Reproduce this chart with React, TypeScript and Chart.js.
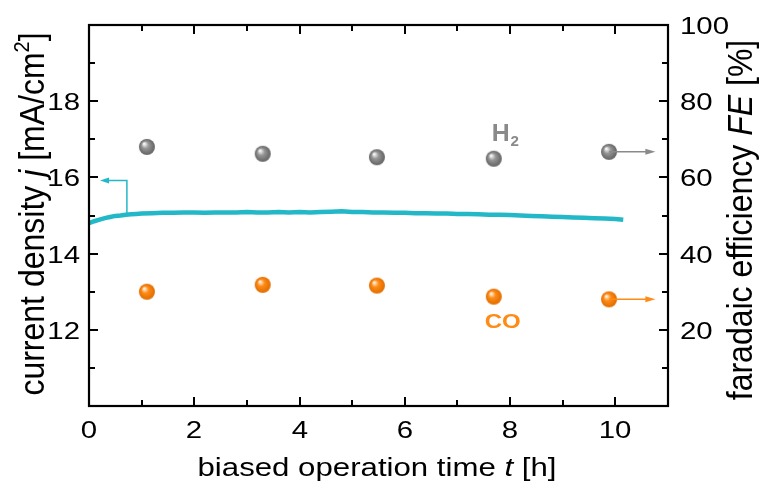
import React, { useEffect, useRef } from 'react';
import { Chart, registerables } from 'chart.js';

Chart.register(...registerables);

// ---- data ----
const timeH = [
  0, 0.1, 0.2, 0.3, 0.4, 0.5, 0.6, 0.7, 0.8, 0.9, 1.0,
  1.2, 1.4, 1.6, 1.8, 2.0, 2.2, 2.4, 2.6, 2.8, 3.0,
  3.2, 3.4, 3.6, 3.8, 4.0, 4.2, 4.4, 4.6, 4.8, 5.0,
  5.2, 5.4, 5.6, 5.8, 6.0, 6.2, 6.4, 6.6, 6.8, 7.0,
  7.2, 7.4, 7.6, 7.8, 8.0, 8.2, 8.4, 8.6, 8.8, 9.0,
  9.2, 9.4, 9.6, 9.8, 10.0, 10.15,
];
const currentDensity = [
  14.80, 14.85, 14.89, 14.93, 14.96, 14.99, 15.00, 15.02, 15.03, 15.04, 15.05,
  15.06, 15.07, 15.07, 15.08, 15.08, 15.07, 15.08, 15.08, 15.08, 15.09,
  15.08, 15.08, 15.09, 15.08, 15.09, 15.08, 15.09, 15.10, 15.11, 15.09,
  15.09, 15.08, 15.08, 15.07, 15.07, 15.06, 15.06, 15.05, 15.05, 15.04,
  15.04, 15.03, 15.02, 15.02, 15.01, 15.00, 14.99, 14.98, 14.97, 14.96,
  14.95, 14.94, 14.93, 14.92, 14.91, 14.89,
];
const sampleTimes = [1.1, 3.3, 5.47, 7.69, 9.88];
const feH2 = [68.0, 66.2, 65.3, 64.9, 66.7];
const feCO = [30.0, 31.8, 31.6, 28.7, 28.0];

const xLabeled = [0, 2, 4, 6, 8, 10];
const yLeftLabeled = [12, 14, 16, 18];
const yRightLabeled = [20, 40, 60, 80, 100];

// annotation anchors (data coordinates)
const jArrowX = [0.72, 0.21];
const jArrowY = [15.05, 15.92];
const feArrowX = [9.88, 10.76];
const h2Label = { x: 7.65, y: 69.6 };
const coLabel = { x: 7.86, y: 20.5 };

const LINE_COLOR = '#22b8c8';
const ORANGE = '#ff8a14';
const GRAY = '#8a8a8a';
const FONT = '"Liberation Sans", Arial, Helvetica, sans-serif';
const SX = 1.2; // horizontal glyph stretch of the original figure
const SV = 1.12; // perpendicular stretch for vertical titles

function makeBall(base: string, light: string, dark: string, r: number) {
  const c = document.createElement('canvas');
  const s = Math.ceil(r * 2 + 2);
  c.width = s;
  c.height = s;
  const g = c.getContext('2d')!;
  const cx = s / 2, cy = s / 2;
  const grad = g.createRadialGradient(cx - r * 0.35, cy - r * 0.4, r * 0.08, cx, cy, r);
  grad.addColorStop(0, light);
  grad.addColorStop(0.4, base);
  grad.addColorStop(1, dark);
  g.fillStyle = grad;
  g.beginPath();
  g.arc(cx, cy, r, 0, Math.PI * 2);
  g.fill();
  return c;
}

type Seg = { t: string; f: string; dy?: number };

function drawRich(ctx: CanvasRenderingContext2D, segs: Seg[], x: number, y: number, vertical: boolean) {
  ctx.save();
  ctx.translate(x, y);
  if (vertical) {
    ctx.rotate(-Math.PI / 2);
    ctx.scale(1, SV);
  } else {
    ctx.scale(SX, 1);
  }
  let total = 0;
  segs.forEach(s => { ctx.font = s.f; total += ctx.measureText(s.t).width; });
  let cx = -total / 2;
  ctx.textBaseline = 'alphabetic';
  ctx.textAlign = 'left';
  segs.forEach(s => {
    ctx.font = s.f;
    ctx.fillText(s.t, cx, s.dy || 0);
    cx += ctx.measureText(s.t).width;
  });
  ctx.restore();
}

function stretchedText(ctx: CanvasRenderingContext2D, text: string, x: number, y: number, align: CanvasTextAlign, sx: number) {
  ctx.save();
  ctx.translate(x, y);
  ctx.scale(sx, 1);
  ctx.textAlign = align;
  ctx.textBaseline = 'alphabetic';
  ctx.fillText(text, 0, 0);
  ctx.restore();
}

function arrowHead(ctx: CanvasRenderingContext2D, x: number, y: number, dir: number, len: number, w: number) {
  ctx.beginPath();
  ctx.moveTo(x, y);
  ctx.lineTo(x - dir * len, y - w / 2);
  ctx.lineTo(x - dir * len, y + w / 2);
  ctx.closePath();
  ctx.fill();
}

const decor = {
  id: 'decor',
  afterDraw(chart: any) {
    const { ctx, chartArea: a, scales } = chart;
    const x = scales.x, yL = scales.y, yR = scales.y2;
    ctx.save();
    // ticks (inward) and labels
    ctx.strokeStyle = '#000';
    ctx.fillStyle = '#000';
    ctx.lineWidth = 2;
    ctx.font = `24.5px ${FONT}`;
    x.ticks.forEach((t: any) => {
      const px = Math.round(x.getPixelForValue(t.value));
      const len = t.value % 2 === 0 ? 9 : 6;
      ctx.beginPath();
      ctx.moveTo(px, a.bottom); ctx.lineTo(px, a.bottom - len);
      ctx.moveTo(px, a.top); ctx.lineTo(px, a.top + len);
      ctx.stroke();
      if (xLabeled.includes(t.value)) stretchedText(ctx, String(t.value), px, a.bottom + 32, 'center', SX);
    });
    yL.ticks.forEach((t: any) => {
      const py = Math.round(yL.getPixelForValue(t.value));
      const len = t.value % 2 === 0 ? 9 : 6;
      ctx.beginPath();
      ctx.moveTo(a.left, py); ctx.lineTo(a.left + len, py);
      ctx.stroke();
      if (yLeftLabeled.includes(t.value)) stretchedText(ctx, String(t.value), a.left - 9, py + 8.5, 'right', SX);
    });
    yR.ticks.forEach((t: any) => {
      const py = Math.round(yR.getPixelForValue(t.value));
      const len = t.value % 20 === 0 ? 9 : 6;
      ctx.beginPath();
      ctx.moveTo(a.right, py); ctx.lineTo(a.right - len, py);
      ctx.stroke();
      if (yRightLabeled.includes(t.value)) stretchedText(ctx, String(t.value), a.right + 12, py + 8.5, 'left', SX);
    });
    // frame
    ctx.lineWidth = 2.2;
    ctx.strokeRect(a.left, a.top, a.right - a.left, a.bottom - a.top);

    // current-density arrow
    ctx.strokeStyle = LINE_COLOR;
    ctx.fillStyle = LINE_COLOR;
    ctx.lineWidth = 1.5;
    const ax0 = x.getPixelForValue(jArrowX[0]);
    const ax1 = x.getPixelForValue(jArrowX[1]);
    const ay0 = yL.getPixelForValue(jArrowY[0]);
    const ay1 = yL.getPixelForValue(jArrowY[1]);
    ctx.beginPath();
    ctx.moveTo(ax0, ay0); ctx.lineTo(ax0, ay1); ctx.lineTo(ax1 + 6, ay1);
    ctx.stroke();
    arrowHead(ctx, ax1, ay1, -1, 9, 6);

    // FE arrows
    const fx0 = x.getPixelForValue(feArrowX[0]);
    const fx1 = x.getPixelForValue(feArrowX[1]);
    const drawFe = (val: number, col: string) => {
      const py = yR.getPixelForValue(val);
      ctx.strokeStyle = col; ctx.fillStyle = col;
      ctx.beginPath(); ctx.moveTo(fx0, py); ctx.lineTo(fx1 - 6, py); ctx.stroke();
      arrowHead(ctx, fx1, py, 1, 10, 6);
    };
    drawFe(feH2[4], GRAY);
    drawFe(feCO[4], ORANGE);

    // series labels
    ctx.fillStyle = GRAY;
    ctx.font = `bold 23px ${FONT}`;
    const hx = x.getPixelForValue(h2Label.x), hy = yR.getPixelForValue(h2Label.y);
    stretchedText(ctx, 'H', hx, hy, 'left', 1.08);
    const hw = ctx.measureText('H').width * 1.08;
    ctx.font = `bold 14px ${FONT}`;
    stretchedText(ctx, '2', hx + hw + 1, hy + 5, 'left', 1.08);
    ctx.fillStyle = ORANGE;
    ctx.font = `bold 20px ${FONT}`;
    stretchedText(ctx, 'CO', x.getPixelForValue(coLabel.x), yR.getPixelForValue(coLabel.y), 'center', SX);

    // axis titles
    ctx.fillStyle = '#000';
    const n = `26px ${FONT}`, it = `italic 26px ${FONT}`;
    drawRich(ctx, [
      { t: 'biased operation time ', f: n }, { t: 't', f: it }, { t: ' [h]', f: n },
    ], 377, 476, false);
    const vn = `32px ${FONT}`, vit = `italic 32px ${FONT}`, vsm = `20px ${FONT}`;
    drawRich(ctx, [
      { t: 'current density ', f: vn }, { t: 'j', f: vit }, { t: ' [mA/cm', f: vn },
      { t: '2', f: vsm, dy: -13 }, { t: ']', f: vn },
    ], 44, 214, true);
    drawRich(ctx, [
      { t: 'faradaic efficiency ', f: vn }, { t: 'FE', f: vit }, { t: ' [%]', f: vn },
    ], 752, 220, true);
    ctx.restore();
  },
};

export default function App() {
  const ref = useRef<HTMLCanvasElement | null>(null);
  useEffect(() => {
    document.body.style.margin = '0';
    const orangeBall = makeBall(ORANGE, '#fff0dc', '#e06c00', 8);
    const grayBall = makeBall('#959595', '#f6f6f6', '#626262', 8);
    const hidden = { display: false };
    const chart = new Chart(ref.current!, {
      type: 'scatter',
      data: {
        datasets: [
          {
            label: 'j',
            data: timeH.map((t, i) => ({ x: t, y: currentDensity[i] })),
            showLine: true,
            borderColor: LINE_COLOR,
            borderWidth: 4.5,
            pointRadius: 0,
            yAxisID: 'y',
            tension: 0,
          },
          {
            label: 'H2',
            data: sampleTimes.map((t, i) => ({ x: t, y: feH2[i] })),
            pointStyle: grayBall as any,
            pointRadius: 8,
            yAxisID: 'y2',
          },
          {
            label: 'CO',
            data: sampleTimes.map((t, i) => ({ x: t, y: feCO[i] })),
            pointStyle: orangeBall as any,
            pointRadius: 8,
            yAxisID: 'y2',
          },
        ],
      },
      options: {
        responsive: false,
        animation: false,
        layout: { padding: { top: 25, left: 0, right: 0, bottom: 0 } },
        plugins: { legend: { display: false }, tooltip: { enabled: false } },
        scales: {
          x: {
            type: 'linear', min: 0, max: 11,
            grid: { display: false, drawTicks: false },
            border: { display: false },
            ticks: { stepSize: 1, autoSkip: false, ...hidden },
            afterFit: (s: any) => { s.height = 77; },
          },
          y: {
            type: 'linear', position: 'left', min: 10, max: 20,
            grid: { display: false, drawTicks: false },
            border: { display: false },
            ticks: { stepSize: 1, autoSkip: false, ...hidden },
            afterFit: (s: any) => { s.width = 89; },
          },
          y2: {
            type: 'linear', position: 'right', min: 0, max: 100,
            grid: { display: false, drawTicks: false },
            border: { display: false },
            ticks: { stepSize: 10, autoSkip: false, ...hidden },
            afterFit: (s: any) => { s.width = 93; },
          },
        },
      },
      plugins: [decor],
    });
    return () => chart.destroy();
  }, []);
  return (
    <div style={{ width: 761, height: 483 }}>
      <canvas ref={ref} width={761} height={483} />
    </div>
  );
}
